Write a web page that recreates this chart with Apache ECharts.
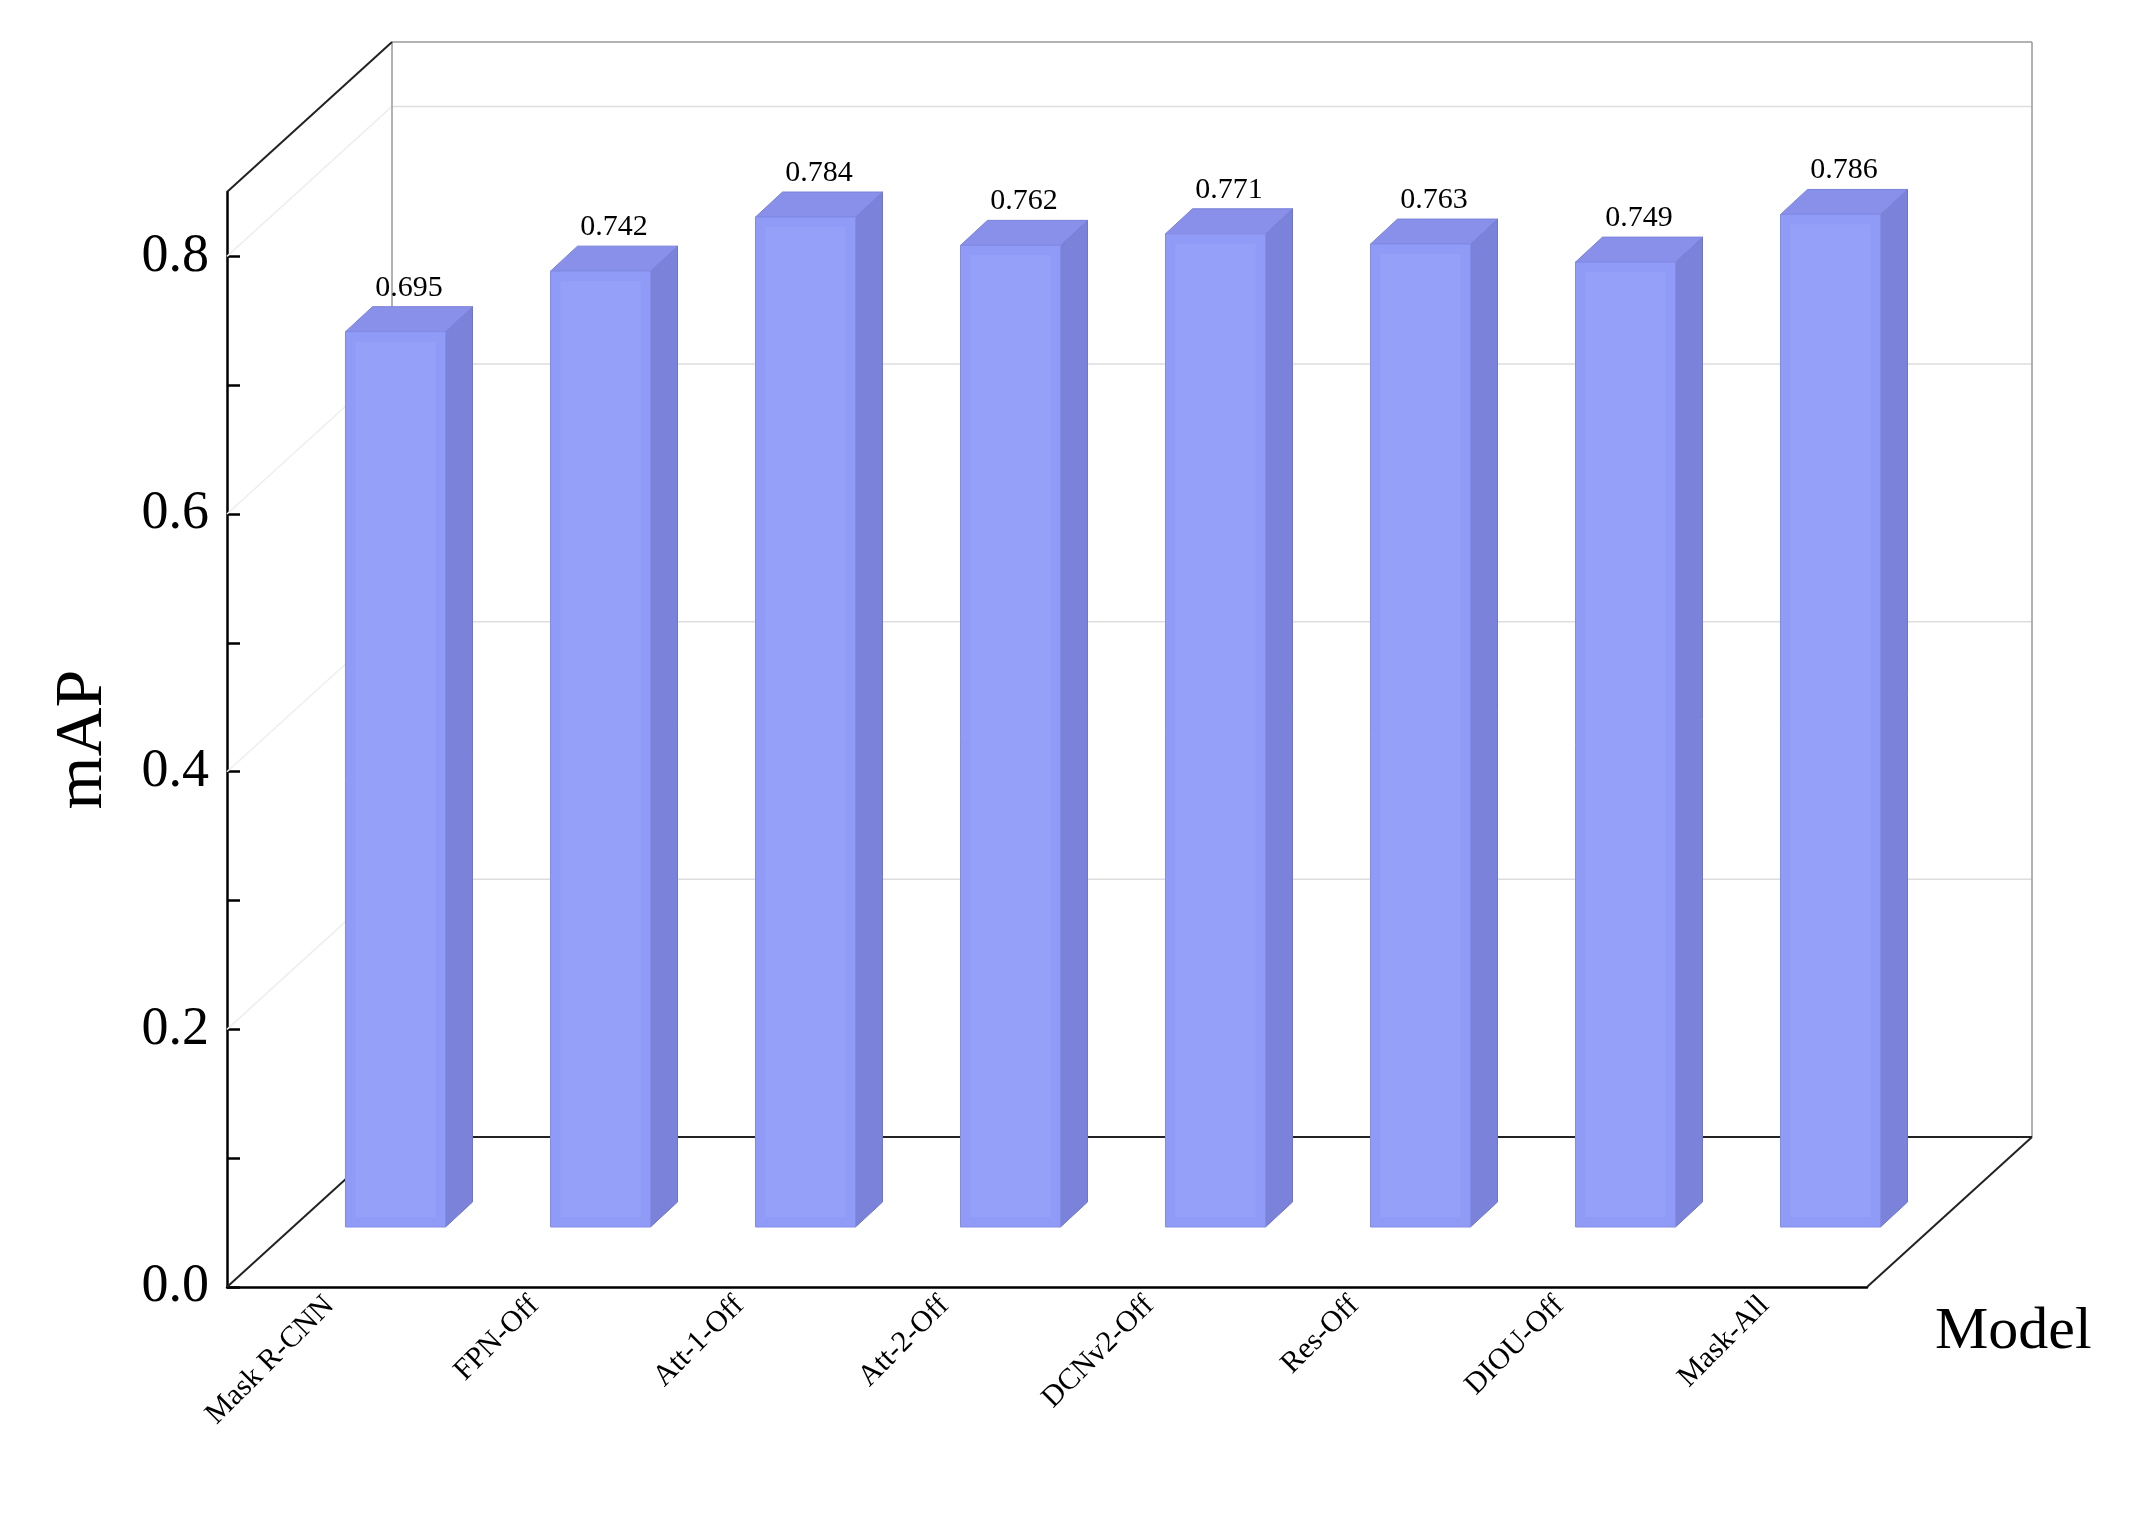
<!DOCTYPE html>
<html><head><meta charset="utf-8">
<script src="https://cdn.jsdelivr.net/npm/echarts@6/dist/echarts.min.js"></script>
<style>html,body{margin:0;padding:0;background:#fff}#c{width:2142px;height:1539px}</style>
</head><body><div id="c"></div>
<script>
const categories = ['Mask R-CNN','FPN-Off','Att-1-Off','Att-2-Off','DCNv2-Off','Res-Off','DIOU-Off','Mask-All'];
const values = [0.695,0.742,0.784,0.762,0.771,0.763,0.749,0.786];
const yLabels = [0,0.2,0.4,0.6,0.8];
const yTicks = [0,0.1,0.2,0.3,0.4,0.5,0.6,0.7,0.8];
const gridLines = [0,0.2,0.4,0.6,0.8];

const DX = 165, DY = -150;      // depth of the box
const BF = 0.4;                 // bar position within depth
const BW = 100, BDX = 27, BDY = -25;
const font = 'Liberation Serif';

const chart = echarts.init(document.getElementById('c'));
chart.setOption({
  animation:false,
  grid:{left:227,right:275,top:192,bottom:252},
  xAxis:{type:'category',data:categories,
    axisLine:{lineStyle:{color:'#000',width:2.5}},
    axisTick:{alignWithLabel:true,length:16,lineStyle:{color:'#000',width:2.5}},
    axisLabel:{rotate:45,fontFamily:font,fontSize:30,color:'#000',margin:14},
    name:'Model',nameLocation:'end',nameGap:0,
    nameTextStyle:{fontFamily:font,fontSize:60,color:'#000',align:'left',verticalAlign:'top',padding:[15,0,0,68]}},
  yAxis:{type:'value',min:0,max:0.85,
    axisLine:{show:true,lineStyle:{color:'#000',width:2.5}},
    splitLine:{show:false},
    axisTick:{show:true,inside:true,length:13,customValues:yTicks,lineStyle:{color:'#000',width:2.5}},
    axisLabel:{customValues:yLabels,fontFamily:font,fontSize:54,color:'#000',margin:18,formatter:v=>v.toFixed(1)},
    name:'mAP',nameLocation:'middle',nameGap:110,
    nameTextStyle:{fontFamily:font,fontSize:68,color:'#000'}},
  series:[
    {type:'custom',z:1,data:[[0,0]],silent:true,
     renderItem:(params,api)=>{
       const cs=params.coordSys; const x0=cs.x,x1=cs.x+cs.width,yb=cs.y+cs.height,yt=cs.y;
       const ch=[]; const gray={stroke:'#999',lineWidth:1.5}; const light={stroke:'#ddd',lineWidth:1.5};
       const L=(a,b,c,d,s)=>ch.push({type:'line',shape:{x1:a,y1:b,x2:c,y2:d},style:s});
       gridLines.forEach(v=>{const y=api.coord([0,v])[1];
         if(v>0){L(x0+DX,y+DY,x1+DX,y+DY,light);L(x0,y,x0+DX,y+DY,{stroke:'#eee',lineWidth:1.5});}});
       L(x0+DX,yt+DY,x1+DX,yt+DY,gray);
       L(x0+DX,yt+DY,x0+DX,yb+DY,gray);
       L(x1+DX,yt+DY,x1+DX,yb+DY,gray);
       L(x0+DX,yb+DY,x1+DX,yb+DY,{stroke:'#222',lineWidth:2});
       L(x0,yb,x0+DX,yb+DY,{stroke:'#222',lineWidth:2});
       L(x1,yb,x1+DX,yb+DY,{stroke:'#222',lineWidth:2});
       L(x0,yt,x0+DX,yt+DY,{stroke:'#222',lineWidth:2});
       return {type:'group',children:ch};
     }},
    {type:'custom',z:5,data:values.map((v,i)=>[i,v]),
     encode:{x:0,y:1},
     renderItem:(params,api)=>{
       const i=api.value(0),v=api.value(1);
       const base=api.coord([i,0]); const top=api.coord([i,v]);
       const ox=DX*BF,oy=DY*BF;
       const l=base[0]+ox-BW/2,r=base[0]+ox+BW/2,b=base[1]+oy,t=top[1]+oy;
       return {type:'group',children:[
         {type:'polygon',shape:{points:[[r,b],[r+BDX,b+BDY],[r+BDX,t+BDY],[r,t]]},style:{fill:'#7a82d9',stroke:'#6e76c8',lineWidth:1}},
         {type:'polygon',shape:{points:[[l,t],[r,t],[r+BDX,t+BDY],[l+BDX,t+BDY]]},style:{fill:'#8890ea',stroke:'#7a82d9',lineWidth:1}},
         {type:'rect',shape:{x:l,y:t,width:BW,height:b-t},style:{fill:'#8f9bf6',stroke:'#828ce6',lineWidth:1}},
         {type:'rect',shape:{x:l+10,y:t+10,width:BW-20,height:b-t-20},style:{fill:'rgba(160,172,255,0.35)'}},
         {type:'text',x:(l+r)/2+BDX/2,y:t+BDY-4,style:{text:v.toFixed(3),font:'30px "Liberation Serif"',fill:'#000',align:'center',verticalAlign:'bottom'}}
       ]};
     }}
  ]
});
</script></body></html>
